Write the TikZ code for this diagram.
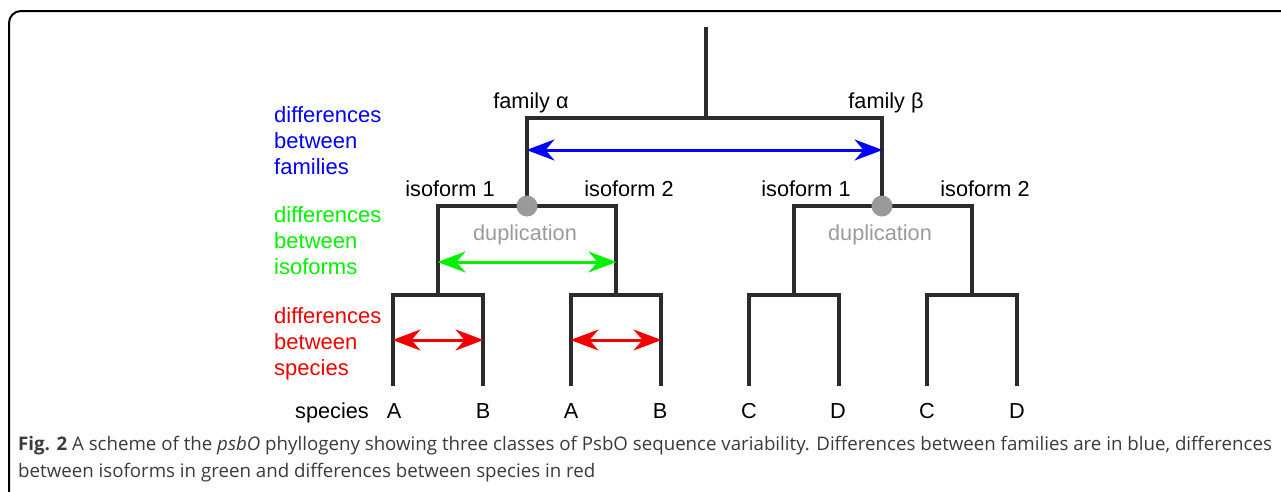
\documentclass[tikz,border=0pt]{standalone}
\usepackage{fontspec}
\setmainfont{Liberation Sans}
\newfontfamily\capfont{Open Sans}
\usetikzlibrary{arrows.meta}
\definecolor{treeclr}{HTML}{2B2B2B}
\definecolor{dupclr}{HTML}{9A9A9A}
\definecolor{capclr}{HTML}{3A3A3A}
\definecolor{famclr}{HTML}{0000FF}
\definecolor{isoclr}{HTML}{00F000}
\definecolor{spcclr}{HTML}{F00000}
\tikzset{
  branch/.style={draw=treeclr, line width=4pt},
  diffarrow/.style={line width=3pt, {Stealth[length=28pt,width=21pt,inset=9pt]}-{Stealth[length=28pt,width=21pt,inset=9pt]}, shorten <=-0.5pt, shorten >=-0.5pt},
  lbl/.style={font=\fontsize{21.7}{26}\selectfont, anchor=base, inner sep=0pt},
  sidelbl/.style={font=\fontsize{22}{26}\selectfont, anchor=north west, align=left, inner sep=0pt},
  dupdot/.style={circle, fill=dupclr, minimum size=21pt, inner sep=0pt},
  duptext/.style={lbl, text=dupclr},
  captxt/.style={font=\capfont\fontsize{18.7}{22}\selectfont, text=capclr, anchor=base west, inner sep=0pt}
}
\begin{document}
\begin{tikzpicture}[x=1pt, y=-1pt]
\useasboundingbox (0,0) rectangle (1281,491);
% outer frame, open to the right and bottom
\draw[line width=2pt, rounded corners=12pt] (9,495) -- (9,11) -- (1290,11);

% branch points of the tree
\coordinate (root) at (706,27);
\coordinate (rootjoin) at (706,118);
\coordinate (fa) at (527,118);
\coordinate (fb) at (882,118);
\coordinate (da) at (527,206);
\coordinate (db) at (882,206);
\coordinate (a1) at (438,206);
\coordinate (a2) at (616,206);
\coordinate (b1) at (794,206);
\coordinate (b2) at (972,206);
\coordinate (a1j) at (438,295);
\coordinate (a2j) at (616,295);
\coordinate (b1j) at (794,295);
\coordinate (b2j) at (972,295);
\foreach \n/\x in {l1/393,l2/483,l3/571,l4/661,l5/749,l6/839,l7/927,l8/1017}{
  \coordinate (\n t) at (\x,295);
  \coordinate (\n) at (\x,386);
}

% tree
\draw[branch] (root) -- (rootjoin);
\draw[branch] (da) -- (fa) -- (fb) -- (db);
\draw[branch] (a1j) -- (a1) -- (a2) -- (a2j);
\draw[branch] (b1j) -- (b1) -- (b2) -- (b2j);
\draw[branch] (l1) -- (l1t) -- (l2t) -- (l2);
\draw[branch] (l3) -- (l3t) -- (l4t) -- (l4);
\draw[branch] (l5) -- (l5t) -- (l6t) -- (l6);
\draw[branch] (l7) -- (l7t) -- (l8t) -- (l8);

% duplication events
\node[dupdot] (dupa) at (da) {};
\node[dupdot] (dupb) at (db) {};
\node[duptext] (dupatext) at (525,240) {duplication};
\node[duptext] (dupbtext) at (880,240) {duplication};

% comparison arrows
\coordinate (famL) at (527,150);
\coordinate (famR) at (882,150);
\draw[diffarrow, famclr] (famL) -- (famR);
\coordinate (isoL) at (438,262);
\coordinate (isoR) at (616,262);
\draw[diffarrow, isoclr] (isoL) -- (isoR);
\coordinate (spL1) at (393,340);
\coordinate (spR1) at (483,340);
\draw[diffarrow, spcclr] (spL1) -- (spR1);
\coordinate (spL2) at (571,340);
\coordinate (spR2) at (661,340);
\draw[diffarrow, spcclr] (spL2) -- (spR2);

% labels
\node[lbl] (famalbl) at (531,108) {family α};
\node[lbl] (famblbl) at (886,108) {family β};
\node[lbl] (iso1a) at (450,196) {isoform 1};
\node[lbl] (iso2a) at (629,196) {isoform 2};
\node[lbl] (iso1b) at (806,196) {isoform 1};
\node[lbl] (iso2b) at (985,196) {isoform 2};
\node[lbl] (spclbl) at (332,418) {species};
\foreach \n/\x/\t in {l1/394/A,l2/483/B,l3/571/A,l4/660/B,l5/749/C,l6/838/D,l7/927/C,l8/1017/D}{
  \node[lbl] (\n lbl) at (\x,418) {\t};
}
\node[sidelbl, text=famclr] (famdiff) at (274,106) {differences\\between\\families};
\node[sidelbl, text=isoclr] (isodiff) at (274,206) {differences\\between\\isoforms};
\node[sidelbl, text=spcclr] (spcdiff) at (274,307) {differences\\between\\species};

% caption
\node[captxt] (cap1) at (18,450) {\textbf{Fig. 2} A scheme of the \textit{psbO} phyllogeny showing three classes of PsbO sequence variability. Differences between families are in blue, differences};
\node[captxt] (cap2) at (18,477) {between isoforms in green and differences between species in red};
\end{tikzpicture}
\end{document}
